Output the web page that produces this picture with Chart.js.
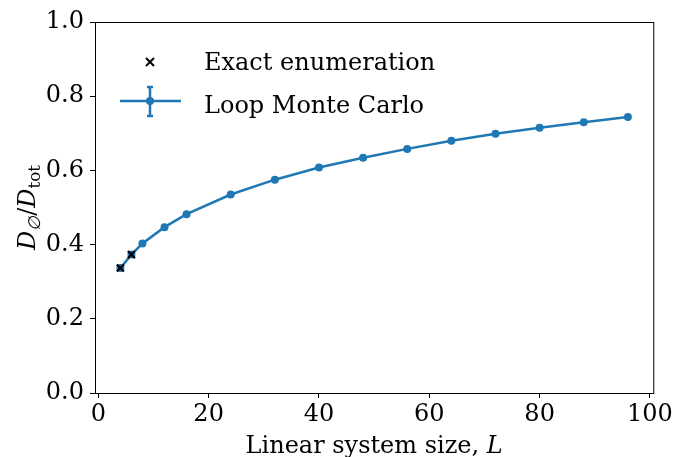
<!DOCTYPE html>
<html><head><meta charset="utf-8">
<script src="https://cdn.jsdelivr.net/npm/chart.js@4/dist/chart.umd.min.js"></script>
<style>html,body{margin:0;padding:0;background:#fff}#wrap{width:675px;height:457px}</style>
</head><body><div id="wrap"><canvas id="c" width="675" height="457"></canvas></div>
<script>
const sizesMC = [4, 6, 8, 12, 16, 24, 32, 40, 48, 56, 64, 72, 80, 88, 96];
const ratioMC = [0.337, 0.373, 0.403, 0.447, 0.482, 0.535, 0.575, 0.608, 0.634, 0.658, 0.680, 0.699, 0.715, 0.730, 0.744];
const sizesExact = [4, 6];
const ratioExact = [0.337, 0.373];
const xTicks = [0, 20, 40, 60, 80, 100];
const yTicks = [0, 0.2, 0.4, 0.6, 0.8, 1.0];
const legendLabels = ['Exact enumeration', 'Loop Monte Carlo'];

const FONT = 'DejaVu Serif';
const FS = 24;
const BLUE = '#1f77b4';

function richText(ctx, segs, x, y, align) {
  let total = 0;
  const parts = segs.map(s => {
    const size = s.sub ? FS * 0.7 : FS;
    const f = (s.italic ? 'italic ' : '') + size + 'px "' + FONT + '"';
    ctx.font = f;
    const w = ctx.measureText(s.t).width;
    total += w;
    return {s, f, w};
  });
  let cx = align === 'center' ? x - total / 2 : x;
  ctx.textAlign = 'left';
  ctx.textBaseline = 'alphabetic';
  parts.forEach(p => {
    ctx.font = p.f;
    ctx.fillText(p.s.t, cx, y + (p.s.sub ? FS * 0.22 : 0));
    cx += p.w;
  });
}

const decor = {
  id: 'decor',
  afterDatasetsDraw(chart) {
    const {ctx, chartArea: a} = chart;
    ctx.save();
    ctx.strokeStyle = '#000';
    ctx.lineWidth = 1;
    ctx.strokeRect(a.left + 0.5, a.top + 0.5, a.right - a.left, a.bottom - a.top);
    ctx.restore();
  },
  afterDraw(chart) {
    const {ctx, chartArea: a} = chart;
    ctx.save();
    ctx.fillStyle = '#000';
    richText(ctx, [{t: 'Linear system size, '}, {t: 'L', italic: true}], (a.left + a.right) / 2, 453, 'center');
    ctx.translate(35, (a.top + a.bottom) / 2);
    ctx.rotate(-Math.PI / 2);
    richText(ctx, [{t: 'D', italic: true}, {t: '∅', italic: true, sub: true}, {t: '/'}, {t: 'D', italic: true}, {t: 'tot', sub: true}], 0, 0, 'center');
    ctx.restore();

    ctx.save();
    ctx.strokeStyle = '#000';
    ctx.lineWidth = 2;
    const mx = 150, my1 = 62, my2 = 101, d = 4;
    ctx.beginPath();
    ctx.moveTo(mx - d, my1 - d); ctx.lineTo(mx + d, my1 + d);
    ctx.moveTo(mx - d, my1 + d); ctx.lineTo(mx + d, my1 - d);
    ctx.stroke();
    ctx.strokeStyle = BLUE;
    ctx.lineWidth = 2.5;
    ctx.beginPath();
    ctx.moveTo(120, my2); ctx.lineTo(181, my2);
    ctx.moveTo(mx, 87); ctx.lineTo(mx, 116);
    ctx.moveTo(mx - 3, 87); ctx.lineTo(mx + 3, 87);
    ctx.moveTo(mx - 3, 116); ctx.lineTo(mx + 3, 116);
    ctx.stroke();
    ctx.fillStyle = BLUE;
    ctx.beginPath(); ctx.arc(mx, my2, 4, 0, Math.PI * 2); ctx.fill();
    ctx.fillStyle = '#000';
    ctx.font = FS + 'px "' + FONT + '"';
    ctx.textAlign = 'left';
    ctx.textBaseline = 'alphabetic';
    ctx.fillText(legendLabels[0], 204, 70);
    ctx.fillText(legendLabels[1], 204, 113);
    ctx.restore();
  }
};

new Chart(document.getElementById('c'), {
  type: 'scatter',
  data: {
    datasets: [
      {
        label: legendLabels[0],
        data: sizesExact.map((x, i) => ({x, y: ratioExact[i]})),
        pointStyle: 'crossRot',
        pointRadius: 5,
        borderColor: '#000',
        backgroundColor: '#000',
        borderWidth: 2.2,
        showLine: false,
        order: 0
      },
      {
        label: legendLabels[1],
        data: sizesMC.map((x, i) => ({x, y: ratioMC[i]})),
        showLine: true,
        borderColor: BLUE,
        backgroundColor: BLUE,
        borderWidth: 2.5,
        pointRadius: 4,
        pointBorderWidth: 0,
        pointStyle: 'circle',
        order: 1
      }
    ]
  },
  options: {
    responsive: false,
    animation: false,
    devicePixelRatio: 1,
    layout: {padding: {top: 22, right: 21, left: 0, bottom: 0}},
    plugins: {legend: {display: false}, tooltip: {enabled: false}},
    scales: {
      x: {
        type: 'linear', min: -0.6, max: 100.6,
        afterBuildTicks: s => { s.ticks = xTicks.map(v => ({value: v})); },
        afterFit: s => { s.height = 64; },
        ticks: {color: '#000', font: {family: FONT, size: FS}, padding: 2, maxRotation: 0, autoSkip: false,
          callback: v => String(v)},
        grid: {display: true, drawOnChartArea: false, tickLength: 5, color: '#000', lineWidth: 1},
        border: {display: true, color: '#000', width: 1}
      },
      y: {
        type: 'linear', min: 0, max: 1,
        afterBuildTicks: s => { s.ticks = yTicks.map(v => ({value: v})); },
        afterFit: s => { s.width = 95; },
        ticks: {color: '#000', font: {family: FONT, size: FS}, padding: 6, autoSkip: false,
          callback: v => Number(v).toFixed(1)},
        grid: {display: true, drawOnChartArea: false, tickLength: 5, color: '#000', lineWidth: 1},
        border: {display: true, color: '#000', width: 1}
      }
    }
  },
  plugins: [decor]
});
</script>
</body></html>
